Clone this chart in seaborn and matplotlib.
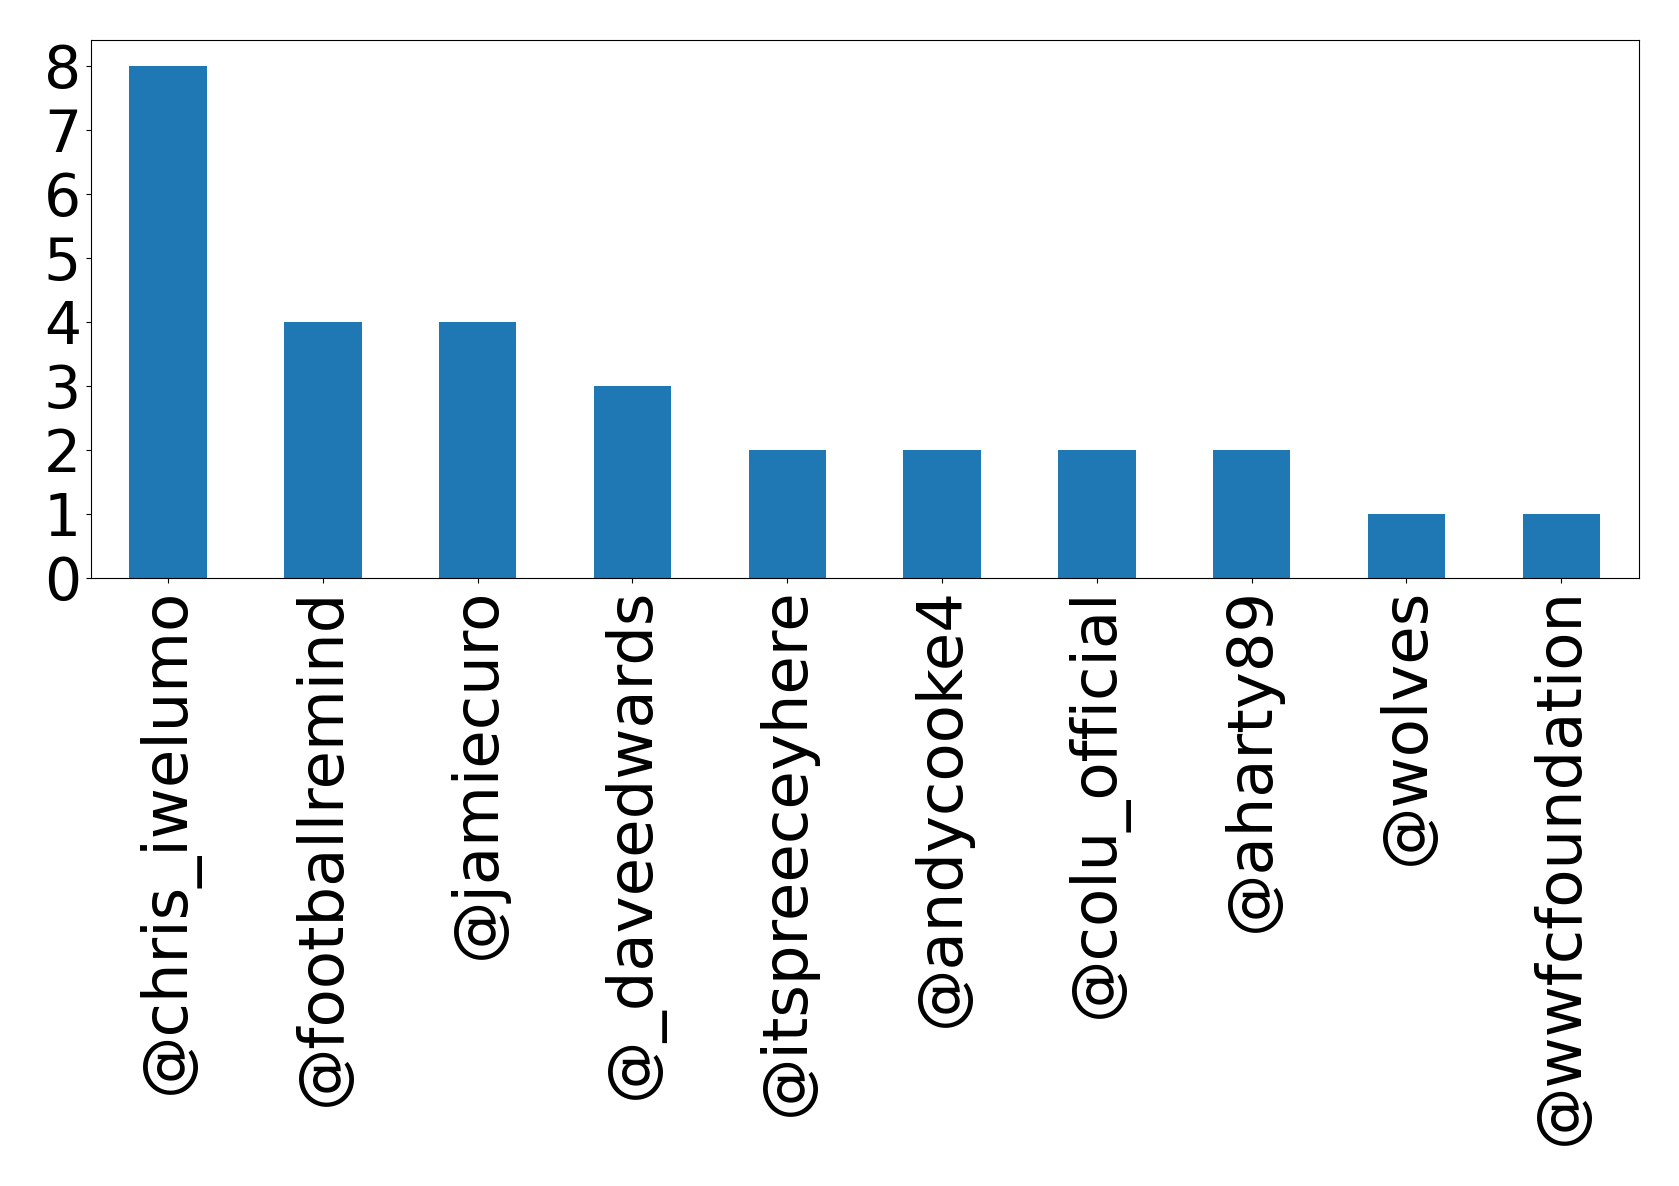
import matplotlib
matplotlib.use("Agg")
import matplotlib.pyplot as plt
import seaborn as sns
import pandas as pd

# mention counts per account
accounts = ["@chris_iwelumo", "@footballremind", "@jamiecuro", "@_daveedwards",
            "@itspreeceyhere", "@andycooke4", "@colu_official", "@aharty89",
            "@wolves", "@wwfcfoundation"]
counts = [8, 4, 4, 3, 2, 2, 2, 2, 1, 1]

df = pd.DataFrame({"account": accounts, "count": counts})

fig, ax = plt.subplots(figsize=(16.79, 11.86), dpi=100)
sns.barplot(data=df, x="account", y="count", color="#1f77b4", saturation=1,
            width=0.5, ax=ax)
ax.set_xlabel("")
ax.set_ylabel("")
ax.set_ylim(0, 8.4)
ax.set_yticks(range(0, 9))
ax.tick_params(axis="y", labelsize=42)
ax.tick_params(axis="x", labelsize=45, labelrotation=90)
fig.subplots_adjust(left=0.054, right=0.976, top=0.966, bottom=0.513)
plt.savefig("out.png")
